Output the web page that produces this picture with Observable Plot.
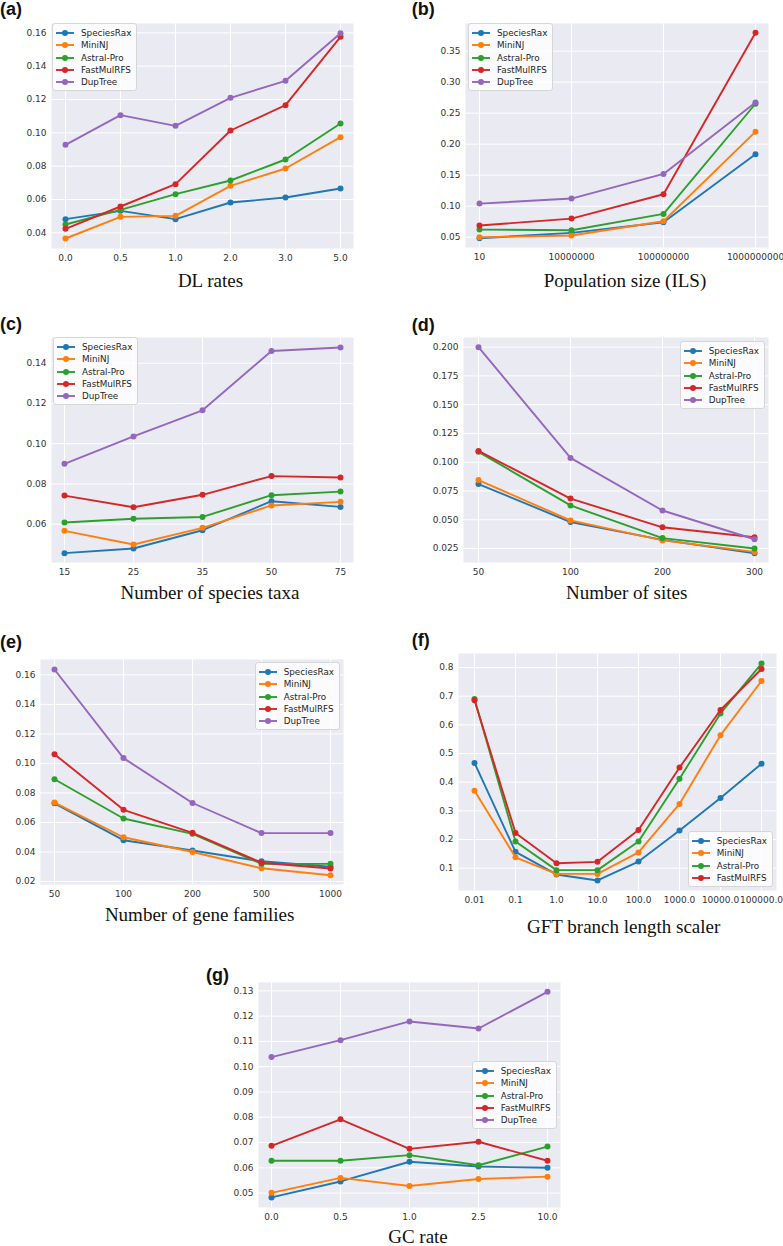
<!DOCTYPE html>
<html><head><meta charset="utf-8">
<script src="https://cdn.jsdelivr.net/npm/d3@7"></script>
<script src="https://cdn.jsdelivr.net/npm/@observablehq/plot@0.6"></script>
<style>
html,body{margin:0;padding:0;background:#fff;overflow:hidden}
#fig{position:relative;width:783px;height:1246px;background:#fff;overflow:hidden}
.legend{position:absolute;background:rgba(255,255,255,0.8);border:1px solid #d6d6d6;border-radius:3px;padding:3px 5px 2px 3px;font:8.8px "DejaVu Sans";color:#262626}
.legend .row{display:flex;align-items:center;height:12.3px;white-space:nowrap}
.legend svg{display:block;margin-right:7px}
</style></head><body><div id="fig"></div>
<script>
const seriesNames = ["SpeciesRax","MiniNJ","Astral-Pro","FastMulRFS","DupTree"];
const seriesColors = ["#1f77b4","#ff7f0e","#2ca02c","#d62728","#9467bd"];

// (a) DL rates
const dlRates = ["0.0","0.5","1.0","2.0","3.0","5.0"];
const dlSpeciesRax = [0.0482,0.0532,0.0482,0.0582,0.0612,0.0666];
const dlMiniNJ     = [0.0366,0.0496,0.0502,0.0682,0.0786,0.0974];
const dlAstralPro  = [0.0450,0.0538,0.0632,0.0714,0.0840,0.1056];
const dlFastMulRFS = [0.0424,0.0558,0.0692,0.1014,0.1166,0.1576];
const dlDupTree    = [0.0928,0.1106,0.1042,0.1210,0.1312,0.1598];
const dlTicks = [0.04,0.06,0.08,0.10,0.12,0.14,0.16];

// (b) Population size (ILS)
const popSizes = ["10","10000000","100000000","1000000000"];
const popSpeciesRax = [0.0484,0.0570,0.0742,0.1837];
const popMiniNJ     = [0.0500,0.0527,0.0758,0.2202];
const popAstralPro  = [0.0623,0.0613,0.0876,0.2652];
const popFastMulRFS = [0.0688,0.0800,0.1192,0.3796];
const popDupTree    = [0.1042,0.1123,0.1520,0.2674];
const popTicks = [0.05,0.10,0.15,0.20,0.25,0.30,0.35];

// (c) Number of species taxa
const taxa = ["15","25","35","50","75"];
const taxaSpeciesRax = [0.0456,0.0479,0.0570,0.0714,0.0686];
const taxaMiniNJ     = [0.0567,0.0499,0.0582,0.0693,0.0711];
const taxaAstralPro  = [0.0608,0.0627,0.0636,0.0744,0.0762];
const taxaFastMulRFS = [0.0742,0.0684,0.0746,0.0839,0.0832];
const taxaDupTree    = [0.0900,0.1036,0.1166,0.1461,0.1478];
const taxaTicks = [0.06,0.08,0.10,0.12,0.14];

// (d) Number of sites
const sites = ["50","100","200","300"];
const sitesSpeciesRax = [0.0810,0.0480,0.0325,0.0208];
const sitesMiniNJ     = [0.0845,0.0494,0.0320,0.0220];
const sitesAstralPro  = [0.1090,0.0624,0.0340,0.0250];
const sitesFastMulRFS = [0.1098,0.0684,0.0434,0.0348];
const sitesDupTree    = [0.2000,0.1037,0.0580,0.0330];
const sitesTicks = [0.025,0.050,0.075,0.100,0.125,0.150,0.175,0.200];

// (e) Number of gene families
const families = ["50","100","200","500","1000"];
const famSpeciesRax = [0.0730,0.0480,0.0410,0.0337,0.0300];
const famMiniNJ     = [0.0735,0.0500,0.0400,0.0290,0.0243];
const famAstralPro  = [0.0893,0.0627,0.0523,0.0320,0.0320];
const famFastMulRFS = [0.1063,0.0686,0.0530,0.0327,0.0288];
const famDupTree    = [0.1636,0.1036,0.0732,0.0528,0.0528];
const famTicks = [0.02,0.04,0.06,0.08,0.10,0.12,0.14,0.16];

// (f) GFT branch length scaler
const scalers = ["0.01","0.1","1.0","10.0","100.0","1000.0","10000.0","100000.0"];
const gftSpeciesRax = [0.467,0.157,0.078,0.057,0.123,0.231,0.345,0.464];
const gftMiniNJ     = [0.370,0.138,0.080,0.080,0.155,0.324,0.564,0.753];
const gftAstralPro  = [0.690,0.193,0.093,0.093,0.193,0.412,0.640,0.814];
const gftFastMulRFS = [0.686,0.223,0.117,0.122,0.233,0.451,0.652,0.795];
const gftTicks = [0.1,0.2,0.3,0.4,0.5,0.6,0.7,0.8];

// (g) GC rate
const gcRates = ["0.0","0.5","1.0","2.5","10.0"];
const gcSpeciesRax = [0.0483,0.0546,0.0624,0.0605,0.0600];
const gcMiniNJ     = [0.0501,0.0560,0.0528,0.0556,0.0565];
const gcAstralPro  = [0.0628,0.0628,0.0650,0.0610,0.0684];
const gcFastMulRFS = [0.0687,0.0792,0.0675,0.0703,0.0628];
const gcDupTree    = [0.1038,0.1105,0.1179,0.1151,0.1296];
const gcTicks = [0.05,0.06,0.07,0.08,0.09,0.10,0.11,0.12,0.13];

const panels = [
  {letter:"(a)", letterPos:[0,14.5], xlabel:"DL rates", xlabelPos:[210.5,287],
   xs:dlRates, values:[dlSpeciesRax,dlMiniNJ,dlAstralPro,dlFastMulRFS,dlDupTree], ticks:dlTicks, fmt:".2f",
   rect:[51,23,353,248], inset:13, yDomain:[0.0306,0.1656], legend:{left:52,top:23}},
  {letter:"(b)", letterPos:[411.7,14.5], xlabel:"Population size (ILS)", xlabelPos:[625,287],
   xs:popSizes, values:[popSpeciesRax,popMiniNJ,popAstralPro,popFastMulRFS,popDupTree], ticks:popTicks, fmt:".2f",
   rect:[465,23,768,247], inset:13, yDomain:[0.0334,0.3946], legend:{left:468,top:23}},
  {letter:"(c)", letterPos:[0,330], xlabel:"Number of species taxa", xlabelPos:[210,599],
   xs:taxa, values:[taxaSpeciesRax,taxaMiniNJ,taxaAstralPro,taxaFastMulRFS,taxaDupTree], ticks:taxaTicks, fmt:".2f",
   rect:[51,337,353,562], inset:13, yDomain:[0.04095,0.1528], legend:{left:53,top:337}},
  {letter:"(d)", letterPos:[411.7,330.5], xlabel:"Number of sites", xlabelPos:[626.7,599],
   xs:sites, values:[sitesSpeciesRax,sitesMiniNJ,sitesAstralPro,sitesFastMulRFS,sitesDupTree], ticks:sitesTicks, fmt:".3f",
   rect:[463,337,768,562], inset:14, yDomain:[0.0128,0.2084], legend:{right:18,top:341}},
  {letter:"(e)", letterPos:[0,648], xlabel:"Number of gene families", xlabelPos:[199.6,921],
   xs:families, values:[famSpeciesRax,famMiniNJ,famAstralPro,famFastMulRFS,famDupTree], ticks:famTicks, fmt:".2f",
   rect:[40,659,343,884], inset:13.5, yDomain:[0.018,0.1704], legend:{right:443,top:662}},
  {letter:"(f)", letterPos:[411.7,645.5], xlabel:"GFT branch length scaler", xlabelPos:[623.7,933],
   xs:scalers, values:[gftSpeciesRax,gftMiniNJ,gftAstralPro,gftFastMulRFS], ticks:gftTicks, fmt:".1f",
   rect:[458,653,776,890], inset:14, yDomain:[0.022,0.849], legend:{right:10,top:831}},
  {letter:"(g)", letterPos:[206,981], xlabel:"GC rate", xlabelPos:[418,1242.5],
   xs:gcRates, values:[gcSpeciesRax,gcMiniNJ,gcAstralPro,gcFastMulRFS,gcDupTree], ticks:gcTicks, fmt:".2f",
   rect:[258,982,560,1207], inset:12, yDomain:[0.0443,0.1333], legend:{right:226,top:1061}}
];

const fig = document.getElementById("fig");
const ML = 50, MT = 8, MR = 40, MB = 24;
const LW = 1.9, DOT_R = 3;

for (const p of panels) {
  const rows = [];
  p.values.forEach((vals, i) => vals.forEach((v, j) => rows.push({x: p.xs[j], y: v, s: seriesNames[i]})));
  const marks = [
    Plot.frame({fill: "#EAEAF2", stroke: "none"}),
    Plot.gridY(p.ticks, {stroke: "#fff", strokeOpacity: 1, strokeWidth: 1}),
    Plot.gridX(p.xs, {stroke: "#fff", strokeOpacity: 1, strokeWidth: 1}),
    Plot.axisY(p.ticks, {tickSize: 0, tickPadding: 5, tickFormat: d3.format(p.fmt), label: null}),
    Plot.axisX(p.xs, {tickSize: 0, tickPadding: 6, label: null})
  ];
  p.values.forEach((vals, i) => {
    const d = rows.filter(r => r.s === seriesNames[i]);
    marks.push(Plot.line(d, {x: "x", y: "y", stroke: seriesColors[i], strokeWidth: LW}));
    marks.push(Plot.dot(d, {x: "x", y: "y", fill: seriesColors[i], r: DOT_R}));
  });
  const w = p.rect[2] - p.rect[0], h = p.rect[3] - p.rect[1];
  const svg = Plot.plot({
    width: w + ML + MR, height: h + MT + MB,
    marginLeft: ML, marginTop: MT, marginRight: MR, marginBottom: MB,
    style: {background: "transparent", fontFamily: "DejaVu Sans", fontSize: "9px", color: "#333", overflow: "visible"},
    x: {type: "point", domain: p.xs, padding: 0, inset: p.inset},
    y: {domain: p.yDomain},
    marks
  });
  svg.style.position = "absolute";
  svg.style.left = (p.rect[0] - ML) + "px";
  svg.style.top = (p.rect[1] - MT) + "px";
  fig.appendChild(svg);

  // legend
  const lg = document.createElement("div");
  lg.className = "legend";
  if (p.legend.left !== undefined) lg.style.left = p.legend.left + "px";
  if (p.legend.right !== undefined) lg.style.right = p.legend.right + "px";
  lg.style.top = p.legend.top + "px";
  p.values.forEach((vals, i) => {
    const row = document.createElement("div");
    row.className = "row";
    const sw = d3.create("svg").attr("width", 18).attr("height", 8);
    sw.append("line").attr("x1", 0).attr("x2", 18).attr("y1", 4).attr("y2", 4)
      .attr("stroke", seriesColors[i]).attr("stroke-width", LW);
    sw.append("circle").attr("cx", 9).attr("cy", 4).attr("r", DOT_R).attr("fill", seriesColors[i]);
    row.appendChild(sw.node());
    const t = document.createElement("span");
    t.textContent = seriesNames[i];
    row.appendChild(t);
    lg.appendChild(row);
  });
  fig.appendChild(lg);
}

// text overlay: panel letters and x-axis titles
const ov = d3.create("svg").attr("width", 783).attr("height", 1246)
  .style("position", "absolute").style("left", "0px").style("top", "0px").style("pointer-events", "none");
for (const p of panels) {
  ov.append("text").attr("x", p.letterPos[0]).attr("y", p.letterPos[1])
    .attr("font-family", "Liberation Sans, Arial, sans-serif").attr("font-weight", "bold")
    .attr("font-size", 18).attr("fill", "#111").text(p.letter);
  ov.append("text").attr("x", p.xlabelPos[0]).attr("y", p.xlabelPos[1]).attr("text-anchor", "middle")
    .attr("font-family", "Liberation Serif, serif").attr("font-size", 19).attr("fill", "#111").text(p.xlabel);
}
fig.appendChild(ov.node());
</script></body></html>
